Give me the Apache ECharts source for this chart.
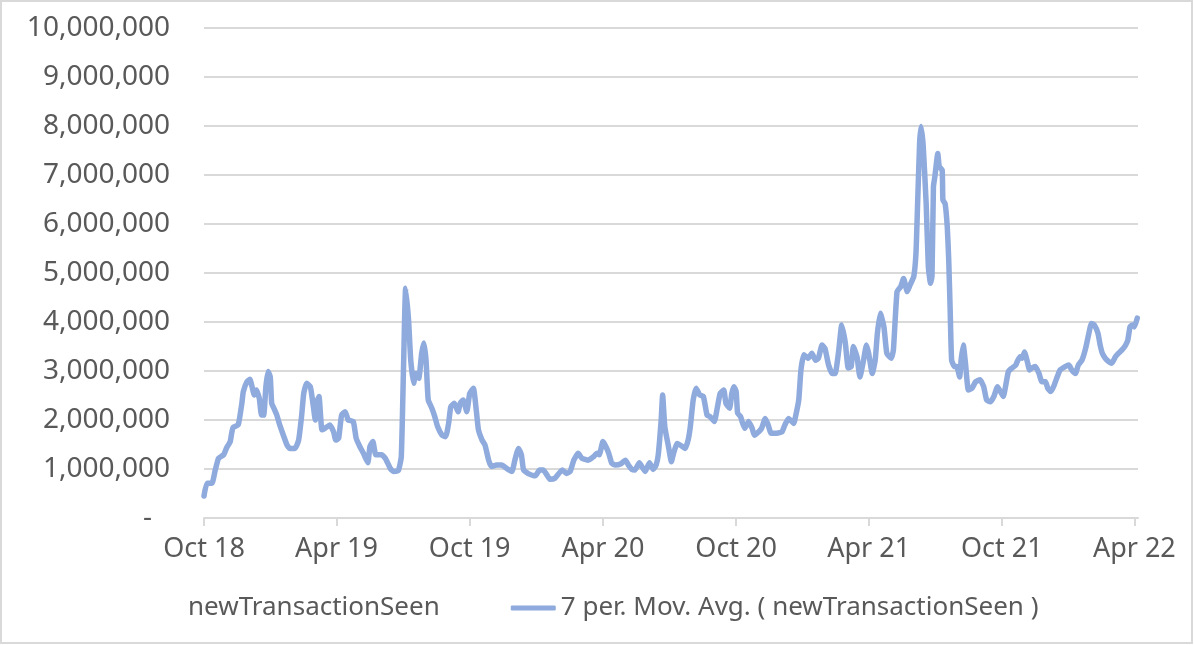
<!DOCTYPE html>
<html>
<head>
<meta charset="utf-8">
<style>
html,body{margin:0;padding:0;background:#fff;}
#chart{width:1194px;height:645px;}
</style>
<script src="https://cdn.jsdelivr.net/npm/echarts@6/dist/echarts.min.js"></script>
</head>
<body>
<div id="chart"></div>
<script>
// 7-day moving average of newTransactionSeen: [date, value]
const ma2018 = [
 ['2018-10-01',450000],['2018-10-05',710000],['2018-10-12',710000],['2018-10-16',950000],['2018-10-21',1220000],['2018-10-28',1290000],
 ['2018-11-01',1430000],['2018-11-06',1560000],['2018-11-08',1730000],['2018-11-10',1850000],['2018-11-17',1900000],['2018-11-22',2340000],
 ['2018-11-24',2580000],['2018-11-29',2780000],['2018-12-03',2830000],['2018-12-06',2680000],['2018-12-09',2510000],['2018-12-12',2610000],
 ['2018-12-16',2440000],['2018-12-19',2100000],['2018-12-22',2100000],['2018-12-25',2680000],['2018-12-28',2990000],['2018-12-31',2880000]
];
const ma2019 = [
 ['2019-01-02',2340000],['2019-01-05',2240000],['2019-01-09',2100000],['2019-01-13',1900000],['2019-01-18',1690000],['2019-01-23',1490000],
 ['2019-01-27',1420000],['2019-02-03',1420000],['2019-02-08',1590000],['2019-02-12',2070000],['2019-02-15',2540000],['2019-02-19',2750000],
 ['2019-02-24',2680000],['2019-02-27',2410000],['2019-03-03',2000000],['2019-03-06',2410000],['2019-03-08',2480000],['2019-03-12',1800000],
 ['2019-03-16',1830000],['2019-03-23',1900000],['2019-03-28',1760000],['2019-03-31',1590000],['2019-04-04',1630000],['2019-04-08',2100000],
 ['2019-04-13',2170000],['2019-04-17',2000000],['2019-04-24',1970000],['2019-04-28',1630000],['2019-05-03',1460000],['2019-05-08',1320000],
 ['2019-05-14',1130000],['2019-05-17',1460000],['2019-05-21',1560000],['2019-05-25',1290000],['2019-06-02',1290000],['2019-06-07',1220000],
 ['2019-06-14',1010000],['2019-06-18',950000],['2019-06-25',970000],['2019-06-29',1250000],['2019-07-02',3020000],['2019-07-05',4690000],
 ['2019-07-09',4040000],['2019-07-12',3220000],['2019-07-16',2750000],['2019-07-19',2950000],['2019-07-23',2850000],['2019-07-27',3360000],
 ['2019-07-30',3570000],['2019-08-02',3220000],['2019-08-05',2410000],['2019-08-10',2240000],['2019-08-14',2070000],['2019-08-18',1860000],
 ['2019-08-24',1690000],['2019-08-29',1660000],['2019-09-02',1930000],['2019-09-05',2270000],['2019-09-10',2340000],['2019-09-15',2170000],
 ['2019-09-18',2340000],['2019-09-22',2410000],['2019-09-27',2170000],['2019-10-01',2540000],['2019-10-06',2650000],['2019-10-10',2200000],
 ['2019-10-13',1800000],['2019-10-18',1590000],['2019-10-22',1490000],['2019-10-27',1180000],['2019-10-31',1050000],['2019-11-07',1080000],
 ['2019-11-14',1080000],['2019-11-21',1010000],['2019-11-28',950000],['2019-12-02',1180000],['2019-12-07',1420000],['2019-12-11',1290000],
 ['2019-12-14',980000],['2019-12-21',900000],['2019-12-30',860000]
];
const ma2020 = [
 ['2020-01-05',980000],['2020-01-10',980000],['2020-01-15',880000],['2020-01-19',790000],['2020-01-26',810000],['2020-02-05',980000],
 ['2020-02-11',910000],['2020-02-16',950000],['2020-02-21',1180000],['2020-02-27',1320000],['2020-03-03',1220000],['2020-03-12',1180000],
 ['2020-03-19',1250000],['2020-03-24',1320000],['2020-03-27',1290000],['2020-04-01',1560000],['2020-04-05',1460000],['2020-04-09',1320000],
 ['2020-04-13',1120000],['2020-04-18',1080000],['2020-04-25',1100000],['2020-05-02',1180000],['2020-05-06',1080000],['2020-05-11',990000],
 ['2020-05-15',980000],['2020-05-21',1130000],['2020-05-24',1060000],['2020-05-29',950000],['2020-06-04',1130000],['2020-06-09',990000],
 ['2020-06-13',1080000],['2020-06-16',1290000],['2020-06-20',2000000],['2020-06-22',2510000],['2020-06-25',1860000],['2020-06-30',1460000],
 ['2020-07-04',1150000],['2020-07-07',1320000],['2020-07-12',1520000],['2020-07-16',1490000],['2020-07-23',1420000],['2020-07-27',1590000],
 ['2020-07-30',1860000],['2020-08-03',2410000],['2020-08-07',2650000],['2020-08-12',2510000],['2020-08-17',2480000],['2020-08-22',2100000],
 ['2020-08-26',2070000],['2020-09-01',1970000],['2020-09-05',2240000],['2020-09-09',2540000],['2020-09-14',2610000],['2020-09-17',2340000],
 ['2020-09-22',2240000],['2020-09-25',2540000],['2020-09-28',2680000],['2020-10-01',2580000],['2020-10-03',2140000],['2020-10-07',2070000],
 ['2020-10-10',1930000],['2020-10-13',1830000],['2020-10-18',1970000],['2020-10-23',1830000],['2020-10-26',1690000],['2020-11-01',1760000],
 ['2020-11-05',1830000],['2020-11-10',2030000],['2020-11-14',1900000],['2020-11-18',1730000],['2020-11-26',1730000],['2020-12-03',1760000],
 ['2020-12-07',1900000],['2020-12-12',2030000],['2020-12-19',1930000],['2020-12-22',2100000],['2020-12-26',2410000],['2020-12-29',3020000]
];
const ma2021 = [
 ['2021-01-02',3330000],['2021-01-08',3260000],['2021-01-13',3360000],['2021-01-18',3220000],['2021-01-22',3260000],['2021-01-27',3530000],
 ['2021-01-31',3460000],['2021-02-05',3120000],['2021-02-10',2950000],['2021-02-14',2950000],['2021-02-19',3430000],['2021-02-23',3940000],
 ['2021-02-28',3570000],['2021-03-04',3060000],['2021-03-08',3090000],['2021-03-11',3500000],['2021-03-16',3290000],['2021-03-20',2880000],
 ['2021-03-25',3220000],['2021-03-29',3530000],['2021-04-01',3360000],['2021-04-06',2950000],['2021-04-10',3220000],['2021-04-13',3770000],
 ['2021-04-17',4180000],['2021-04-22',3900000],['2021-04-26',3360000],['2021-05-02',3260000],['2021-05-05',3430000],['2021-05-10',4620000],
 ['2021-05-15',4720000],['2021-05-19',4890000],['2021-05-24',4620000],['2021-05-28',4760000],['2021-06-02',4930000],['2021-06-05',5400000],
 ['2021-06-07',6290000],['2021-06-10',7650000],['2021-06-12',7990000],['2021-06-15',7580000],['2021-06-19',6420000],['2021-06-22',5130000],
 ['2021-06-25',4790000],['2021-06-27',4930000],['2021-06-29',6760000],['2021-07-01',6970000],['2021-07-05',7440000],['2021-07-07',7170000],
 ['2021-07-11',7100000],['2021-07-12',6490000],['2021-07-15',6420000],['2021-07-18',5940000],['2021-07-20',5270000],['2021-07-22',4240000],
 ['2021-07-24',3220000],['2021-07-28',3090000],['2021-07-31',3090000],['2021-08-04',2880000],['2021-08-06',3220000],['2021-08-09',3530000],
 ['2021-08-12',3160000],['2021-08-16',2610000],['2021-08-21',2650000],['2021-08-26',2780000],['2021-09-01',2820000],['2021-09-06',2680000],
 ['2021-09-10',2410000],['2021-09-15',2370000],['2021-09-20',2480000],['2021-09-25',2680000],['2021-09-29',2580000],['2021-10-03',2480000],
 ['2021-10-06',2680000],['2021-10-10',2990000],['2021-10-15',3060000],['2021-10-20',3120000],['2021-10-22',3190000],['2021-10-26',3290000],
 ['2021-10-29',3260000],['2021-11-01',3390000],['2021-11-05',3190000],['2021-11-08',3020000],['2021-11-11',3060000],['2021-11-16',3090000],
 ['2021-11-21',2950000],['2021-11-25',2780000],['2021-11-30',2780000],['2021-12-03',2650000],['2021-12-07',2580000],['2021-12-11',2680000],
 ['2021-12-16',2880000],['2021-12-20',3020000],['2021-12-27',3090000]
];
const ma2022 = [
 ['2022-01-01',3120000],['2022-01-05',3020000],['2022-01-10',2950000],['2022-01-14',3120000],['2022-01-19',3220000],['2022-01-24',3460000],
 ['2022-01-28',3730000],['2022-02-01',3970000],['2022-02-05',3940000],['2022-02-10',3770000],['2022-02-13',3530000],['2022-02-16',3360000],
 ['2022-02-20',3260000],['2022-02-25',3190000],['2022-03-01',3160000],['2022-03-06',3290000],['2022-03-10',3360000],['2022-03-15',3430000],
 ['2022-03-20',3530000],['2022-03-23',3630000],['2022-03-26',3900000],['2022-03-29',3940000],['2022-04-01',3900000],['2022-04-05',4080000]
];
// x-axis tick dates and labels
const tickDates = ['2018-10-01','2019-04-01','2019-10-01','2020-04-01','2020-10-01','2021-04-01','2021-10-01','2022-04-01'];
const tickLabels = ['Oct 18','Apr 19','Oct 19','Apr 20','Oct 20','Apr 21','Oct 21','Apr 22'];
const seriesNames = ['newTransactionSeen', '7 per. Mov. Avg. ( newTransactionSeen )'];

function ts(s){ const p = s.split('-').map(Number); return Date.UTC(p[0], p[1]-1, p[2]); }
const tickTs = tickDates.map(ts);
const maData = [].concat(ma2018, ma2019, ma2020, ma2021, ma2022).map(d => [ts(d[0]), d[1]]);

const FONT = 'Noto Sans';
const TXT = '#595959';
const LINE = '#8FAADC';

const chart = echarts.init(document.getElementById('chart'), null, {renderer:'canvas'});
chart.setOption({
  animation:false,
  backgroundColor:'#fff',
  textStyle:{fontFamily:FONT},
  graphic:[{type:'rect', shape:{x:1,y:1,width:1191,height:642}, style:{fill:'none', stroke:'#d9d9d9', lineWidth:2}, silent:true}],
  grid:{left:204, right:56, top:28, bottom:127, containLabel:false},
  xAxis:{
    type:'value',
    min: ts('2018-10-01'), max: ts('2022-04-06'),
    axisLine:{show:true, lineStyle:{color:'#d9d9d9', width:2}},
    axisTick:{show:true, customValues: tickTs, length:8, lineStyle:{color:'#d9d9d9', width:2}},
    axisLabel:{
      customValues: tickTs, color:TXT, fontSize:27, fontFamily:FONT, margin:18, showMinLabel:true, showMaxLabel:true,
      formatter: function(v){ const i = tickTs.indexOf(v); return i >= 0 ? tickLabels[i] : ''; }
    },
    splitLine:{show:false}
  },
  yAxis:{
    type:'value', min:0, max:10000000, interval:1000000,
    axisLine:{show:false}, axisTick:{show:false},
    splitLine:{lineStyle:{color:'#d9d9d9', width:2}},
    axisLabel:{
      color:TXT, fontSize:28, fontFamily:FONT, margin:34,
      formatter: function(v){ return v === 0 ? '{d|-}' : v.toLocaleString('en-US'); },
      rich:{ d:{ color:TXT, fontSize:28, fontFamily:FONT, padding:[0,18,0,0] } }
    }
  },
  legend:{
    left:133, top:590, itemGap:71, itemWidth:45, itemHeight:5,
    textStyle:{color:TXT, fontSize:26, fontFamily:FONT},
    data:[
      {name:seriesNames[0], icon:'rect', itemStyle:{opacity:0}},
      {name:seriesNames[1], icon:'roundRect', itemStyle:{color:LINE}}
    ]
  },
  series:[
    {name:seriesNames[0], type:'line', data:[], symbol:'none', lineStyle:{opacity:0}},
    {name:seriesNames[1], type:'line', data:maData, symbol:'none', smooth:0.15,
     lineStyle:{color:LINE, width:5.5, cap:'round', join:'round'}, itemStyle:{color:LINE}}
  ]
});
</script>
</body>
</html>
